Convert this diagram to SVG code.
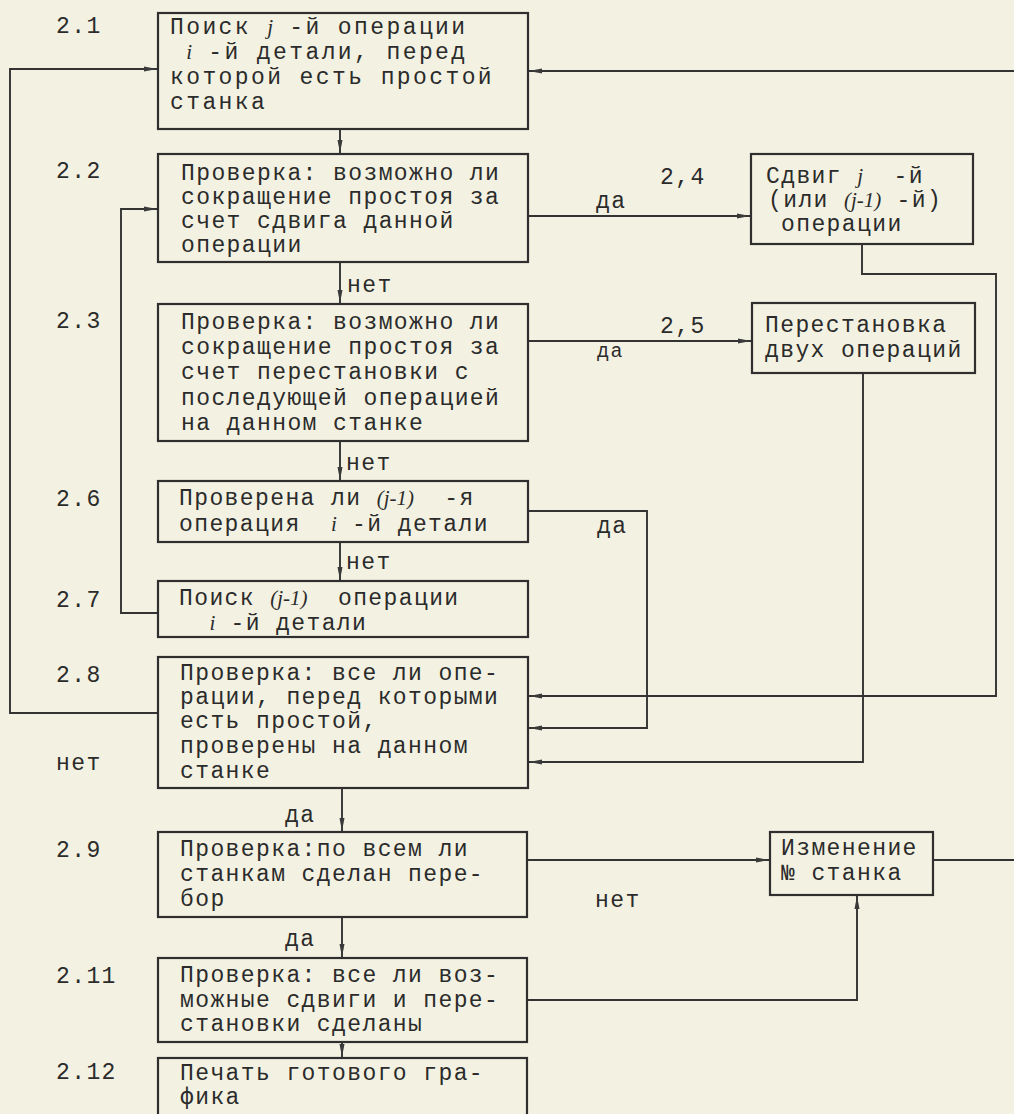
<svg xmlns="http://www.w3.org/2000/svg" width="1014" height="1114" viewBox="0 0 1014 1114">
<defs>
<marker id="ar" markerUnits="userSpaceOnUse" markerWidth="14" markerHeight="8" refX="13" refY="4" orient="auto">
<path d="M0,1.5 L13,4 L0,6.5 Z" fill="#3a3a3a"/>
</marker>
<style>
.bg{fill:#f3f2e2}
.box{fill:none;stroke:#2f2f2f;stroke-width:2.2}
.c{fill:none;stroke:#333;stroke-width:1.9}
.a{marker-end:url(#ar)}
.t{font-family:"Liberation Mono","DejaVu Sans Mono",monospace;font-size:23px;letter-spacing:1.4px;fill:#2b2b2b;white-space:pre}
.w{letter-spacing:2.4px}
.s{font-size:20px}
.m{font-family:"Liberation Serif",serif;font-style:italic;font-size:21px;letter-spacing:0}
</style>
</defs>
<rect class="bg" x="0" y="0" width="1014" height="1114"/>

<g id="connectors">
<path class="c a" d="M158,713 H10 V69 H157"/>
<path class="c a" d="M158,613 H121 V209 H157"/>
<path class="c a" d="M340,129 V153"/>
<path class="c a" d="M340,262 V303"/>
<path class="c a" d="M340,441 V480"/>
<path class="c a" d="M340,542 V580"/>
<path class="c a" d="M528,216 H750"/>
<path class="c a" d="M528,341 H751"/>
<path class="c a" d="M862,244 V274 H996 V696 H529"/>
<path class="c a" d="M863,373 V762 H529"/>
<path class="c a" d="M528,511 H647 V728 H529"/>
<path class="c a" d="M1014,71 H529"/>
<path class="c a" d="M342,788 V831"/>
<path class="c a" d="M342,917 V957"/>
<path class="c a" d="M342,1042 V1057"/>
<path class="c a" d="M527,860 H769"/>
<path class="c" d="M933,860 H1014"/>
<path class="c a" d="M527,1000 H857 V896"/>
<text class="t" x="347" y="292">нет</text>
<text class="t" x="346" y="470">нет</text>
<text class="t" x="346" y="569">нет</text>
<text class="t" x="596" y="208">да</text>
<text class="t" x="660" y="184">2,4</text>
<text class="t s" x="597" y="357">да</text>
<text class="t" x="660" y="333">2,5</text>
<text class="t" x="597" y="533">да</text>
<text class="t" x="285" y="822">да</text>
<text class="t" x="285" y="946">да</text>
<text class="t" x="595" y="907">нет</text>
</g>

<g id="labels">
<text class="t" x="56" y="33">2.1</text>
<text class="t" x="56" y="178">2.2</text>
<text class="t" x="56" y="328">2.3</text>
<text class="t" x="56" y="506">2.6</text>
<text class="t" x="56" y="607">2.7</text>
<text class="t" x="56" y="682">2.8</text>
<text class="t" x="56" y="770">нет</text>
<text class="t" x="56" y="857">2.9</text>
<text class="t" x="56" y="983">2.11</text>
<text class="t" x="56" y="1079">2.12</text>
</g>

<g id="n21">
<rect class="box" x="158" y="13" width="370" height="116"/>
<text class="t w" x="170" y="34">Поиск <tspan class="m">j</tspan> -й операции</text>
<text class="t w" x="170" y="59"> <tspan class="m">i</tspan> -й детали, перед</text>
<text class="t w" x="170" y="84">которой есть простой</text>
<text class="t w" x="170" y="109">станка</text>
</g>

<g id="n22">
<rect class="box" x="158" y="154" width="370" height="108"/>
<text class="t" x="181" y="180">Проверка: возможно ли</text>
<text class="t" x="181" y="204">сокращение простоя за</text>
<text class="t" x="181" y="228">счет сдвига данной</text>
<text class="t" x="181" y="252">операции</text>
</g>

<g id="n23">
<rect class="box" x="158" y="304" width="370" height="137"/>
<text class="t" x="181" y="329">Проверка: возможно ли</text>
<text class="t" x="181" y="354">сокращение простоя за</text>
<text class="t" x="181" y="379">счет перестановки с</text>
<text class="t" x="181" y="405">последующей операцией</text>
<text class="t" x="181" y="430">на данном станке</text>
</g>

<g id="n24">
<rect class="box" x="751" y="154" width="222" height="90"/>
<text class="t" x="766" y="183">Сдвиг <tspan class="m">j</tspan>  -й</text>
<text class="t" x="768" y="207">(или <tspan class="m">(j-1)</tspan> -й)</text>
<text class="t" x="781" y="231">операции</text>
</g>

<g id="n25">
<rect class="box" x="752" y="303" width="223" height="70"/>
<text class="t" x="765" y="332">Перестановка</text>
<text class="t" x="765" y="357">двух операций</text>
</g>

<g id="n26">
<rect class="box" x="158" y="481" width="370" height="61"/>
<text class="t" x="179" y="505">Проверена ли <tspan class="m">(j-1)</tspan>  -я</text>
<text class="t" x="179" y="531">операция  <tspan class="m">i</tspan> -й детали</text>
</g>

<g id="n27">
<rect class="box" x="158" y="581" width="370" height="56"/>
<text class="t" x="179" y="605">Поиск <tspan class="m">(j-1)</tspan>  операции</text>
<text class="t" x="179" y="630">  <tspan class="m">i</tspan> -й детали</text>
</g>

<g id="n28">
<rect class="box" x="158" y="657" width="370" height="131"/>
<text class="t" x="180" y="680">Проверка: все ли опе-</text>
<text class="t" x="180" y="704">рации, перед которыми</text>
<text class="t" x="180" y="728">есть простой,</text>
<text class="t" x="180" y="753">проверены на данном</text>
<text class="t" x="180" y="778">станке</text>
</g>

<g id="n29">
<rect class="box" x="158" y="832" width="369" height="85"/>
<text class="t" x="180" y="856">Проверка:по всем ли</text>
<text class="t" x="180" y="881">станкам сделан пере-</text>
<text class="t" x="180" y="906">бор</text>
</g>

<g id="n210">
<rect class="box" x="770" y="832" width="163" height="63"/>
<text class="t" x="781" y="855">Изменение</text>
<text class="t" x="781" y="880">№ станка</text>
</g>

<g id="n211">
<rect class="box" x="158" y="958" width="369" height="84"/>
<text class="t" x="180" y="982">Проверка: все ли воз-</text>
<text class="t" x="180" y="1007">можные сдвиги и пере-</text>
<text class="t" x="180" y="1031">становки сделаны</text>
</g>

<g id="n212">
<rect class="box" x="158" y="1058" width="369" height="70"/>
<text class="t" x="180" y="1080">Печать готового гра-</text>
<text class="t" x="180" y="1104">фика</text>
</g>
</svg>
